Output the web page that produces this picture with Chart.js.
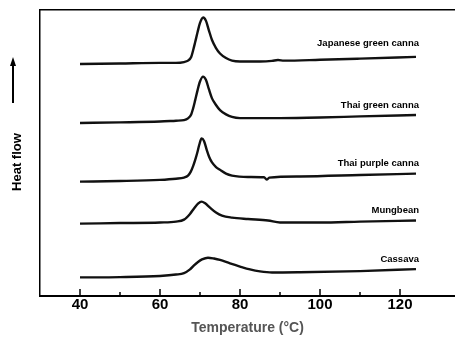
<!DOCTYPE html>
<html>
<head>
<meta charset="utf-8">
<script src="https://cdn.jsdelivr.net/npm/chart.js@4.4.0/dist/chart.umd.min.js"></script>
<style>
  html, body { margin: 0; padding: 0; background: #fff; }
  #wrap { width: 455px; height: 337px; }
</style>
</head>
<body>
<div id="wrap"><canvas id="dsc" width="455" height="337"></canvas></div>
<script>
// nombres de las muestras (de arriba hacia abajo)
const muestras = ['Japanese green canna', 'Thai green canna', 'Thai purple canna', 'Mungbean', 'Cassava'];

const tempJG = [40, 50, 60, 64, 66, 67, 67.8, 68.3, 68.8, 69.4, 70, 70.8, 71.5, 72.2, 73, 74, 75, 76.5, 78, 80, 85, 88, 89.5, 91, 100, 110, 124];
const flujoJG = [81.1, 81.3, 81.5, 81.5, 81.8, 82.3, 83.6, 86.0, 88.8, 92.3, 95.5, 97.4, 96.2, 93.0, 89.5, 86.7, 84.8, 83.2, 82.3, 82.0, 82.0, 82.2, 82.5, 82.3, 82.6, 83.0, 83.6];

const tempTG = [40, 50, 60, 64, 66, 67, 67.8, 68.3, 68.8, 69.4, 70, 70.75, 71.5, 72.2, 73, 74, 75, 76.5, 78, 80, 90, 100, 110, 124];
const flujoTG = [60.5, 60.7, 61.0, 61.3, 61.5, 62.1, 63.5, 65.7, 68.5, 72.0, 75.0, 76.7, 75.5, 72.4, 69.1, 66.8, 65.0, 63.5, 62.6, 62.2, 62.2, 62.4, 62.8, 63.3];

const tempTP = [40, 50, 60, 64, 66, 67, 67.7, 68.3, 68.8, 69.3, 69.8, 70.4, 71, 71.7, 72.3, 73, 74, 75, 76.5, 78, 82, 86, 86.75, 87.3, 95, 110, 124];
const flujoTP = [40.0, 40.2, 40.6, 41.0, 41.4, 42.1, 43.5, 45.5, 47.6, 50.0, 52.8, 55.1, 54.2, 51.0, 48.6, 46.7, 45.1, 44.1, 42.8, 42.1, 41.6, 41.5, 40.7, 41.4, 41.8, 42.3, 42.8];

const tempMB = [40, 50, 60, 64, 66, 67.5, 68.5, 69.5, 70.4, 71.2, 72.5, 74, 75.5, 78, 82, 87, 90, 100, 110, 124];
const flujoMB = [25.3, 25.5, 25.7, 26.0, 26.7, 28.7, 30.6, 32.3, 33.0, 32.5, 30.9, 29.2, 28.1, 27.4, 26.9, 26.4, 25.7, 25.7, 26.0, 26.4];

const tempCS = [40, 50, 60, 64, 66, 67.5, 68.5, 69.5, 70.5, 72, 73.5, 75, 77.5, 80, 82.5, 85, 88, 95, 110, 124];
const flujoCS = [6.5, 6.6, 7.0, 7.5, 8.0, 9.3, 10.7, 11.9, 12.8, 13.4, 13.1, 12.6, 11.4, 10.3, 9.3, 8.6, 8.2, 8.3, 8.7, 9.4];

// etiquetas del eje x
const ticksX = [40, 60, 80, 100, 120];

const series = [
  [tempJG, flujoJG],
  [tempTG, flujoTG],
  [tempTP, flujoTP],
  [tempMB, flujoMB],
  [tempCS, flujoCS]
];

function puntos(t, f) {
  return t.map((x, i) => ({ x: x, y: f[i] }));
}

// ticks hacia adentro, flecha del eje y, nombres de las curvas
const decoracion = {
  id: 'decoracion',
  afterDraw(chart) {
    const ctx = chart.ctx;
    const ca = chart.chartArea;
    const sx = chart.scales.x;
    ctx.save();
    ctx.strokeStyle = '#000';
    ctx.fillStyle = '#000';
    ctx.lineWidth = 1.5;
    sx.ticks.forEach(t => {
      const v = t.value;
      if (v % 10 !== 0 || v < 40) return;
      const px = sx.getPixelForValue(v);
      const largo = v % 20 === 0 && v <= 120 ? 7 : 4;
      ctx.beginPath();
      ctx.moveTo(px, ca.bottom);
      ctx.lineTo(px, ca.bottom - largo);
      ctx.stroke();
    });

    // flecha "Heat flow"
    ctx.lineWidth = 2;
    ctx.beginPath();
    ctx.moveTo(13, 103);
    ctx.lineTo(13, 64);
    ctx.stroke();
    ctx.beginPath();
    ctx.moveTo(13, 57);
    ctx.lineTo(10, 66);
    ctx.lineTo(16, 66);
    ctx.closePath();
    ctx.fill();

    // nombres
    ctx.font = 'bold 9.5px "Liberation Sans", Arial, sans-serif';
    ctx.textAlign = 'right';
    ctx.textBaseline = 'middle';
    const xTexto = sx.getPixelForValue(124.75);
    chart.data.datasets.forEach((ds, i) => {
      const meta = chart.getDatasetMeta(i);
      const ult = meta.data[meta.data.length - 1];
      ctx.fillText(ds.label, xTexto, ult.y - ds.subida);
    });
    ctx.restore();
  }
};

const ctxDsc = document.getElementById('dsc');

new Chart(ctxDsc, {
  type: 'line',
  data: {
    datasets: series.map((s, i) => ({
      label: muestras[i],
      data: puntos(s[0], s[1]),
      borderColor: '#111',
      borderWidth: 2.4,
      pointRadius: 0,
      fill: false,
      cubicInterpolationMode: 'monotone',
      subida: i === 0 ? 14 : 10
    }))
  },
  options: {
    responsive: false,
    animation: false,
    layout: { padding: 0 },
    plugins: {
      legend: { display: false },
      tooltip: { enabled: false }
    },
    scales: {
      x: {
        type: 'linear',
        position: 'bottom',
        min: 30,
        max: 133.75,
        afterFit: s => { s.height = 41; },
        grid: { display: false, drawTicks: false },
        border: { display: true, color: '#000', width: 2 },
        ticks: {
          stepSize: 10,
          autoSkip: false,
          maxRotation: 0,
          padding: 0,
          color: '#000',
          font: { family: '"Liberation Sans", Arial, sans-serif', size: 15, weight: 'bold' },
          callback: v => ticksX.includes(v) ? String(v) : ''
        },
        title: {
          display: true,
          text: 'Temperature (°C)',
          color: '#555',
          padding: { top: 0, bottom: 0 },
          font: { family: '"Liberation Sans", Arial, sans-serif', size: 14, weight: 'bold' }
        }
      },
      xTop: {
        type: 'linear',
        position: 'top',
        min: 30,
        max: 133.75,
        afterFit: s => { s.height = 10; },
        grid: { display: false, drawTicks: false },
        border: { display: true, color: '#000', width: 1.5 },
        ticks: { display: false }
      },
      y: {
        min: 0,
        max: 100,
        afterFit: s => { s.width = 40; },
        grid: { display: false, drawTicks: false },
        border: { display: true, color: '#000', width: 1.5 },
        ticks: { display: false },
        title: {
          display: true,
          text: 'Heat flow     ',
          color: '#000',
          padding: { top: 10, bottom: 0 },
          font: { family: '"Liberation Sans", Arial, sans-serif', size: 13, weight: 'bold' }
        }
      }
    }
  },
  plugins: [decoracion]
});
</script>
</body>
</html>
